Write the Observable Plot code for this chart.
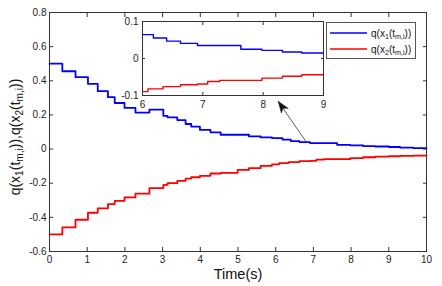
<!DOCTYPE html>
<html>
<head>
<meta charset="utf-8">
<script src="https://cdn.jsdelivr.net/npm/d3@7"></script>
<script src="https://cdn.jsdelivr.net/npm/@observablehq/plot@0.6"></script>
<style>
  html, body { margin: 0; padding: 0; background: white; }
  #wrap { position: relative; width: 442px; height: 286px; font-family: "Liberation Sans", Arial, sans-serif; color: #111; }
  #wrap svg { display: block; }
  .abs { position: absolute; }
  #legend { left: 326px; top: 22px; width: 88px; height: 35px; border: 1px solid #555; background: white; font-size: 10px; }
  .row { position: absolute; left: 3px; height: 14px; display: flex; align-items: center; white-space: nowrap; }
  .row svg { margin-right: 4px; }
  sub { font-size: 0.72em; vertical-align: -0.3em; line-height: 0; }
  #ylabel { left: 15px; top: 137px; transform: translate(-50%, -50%) rotate(-90deg); font-size: 14px; white-space: nowrap; }
  #xlabel { left: 238px; top: 274px; transform: translate(-50%, -50%); font-size: 14.5px; white-space: nowrap; }
</style>
</head>
<body>
<div id="wrap"></div>
<script>
// ---- data ----
const times = [0, 0.34, 0.69, 1.02, 1.28, 1.55, 1.73, 1.99, 2.28, 2.65, 3.02, 3.13, 3.39, 3.61, 3.76, 3.99, 4.27, 4.54, 4.99, 5.29, 5.6, 5.9, 6.09, 6.18, 6.34, 6.4, 6.63, 6.91, 7.08, 7.28, 7.63, 7.98, 8.32, 8.64, 9.0, 9.3, 9.65, 10];
const q1 = [0.5, 0.456, 0.421, 0.382, 0.339, 0.304, 0.27, 0.241, 0.214, 0.231, 0.194, 0.186, 0.17, 0.147, 0.131, 0.112, 0.098, 0.084, 0.084, 0.074, 0.068, 0.0645, 0.0645, 0.0556, 0.0556, 0.047, 0.041, 0.035, 0.035, 0.035, 0.025, 0.022, 0.0175, 0.015, 0.012, 0.009, 0.006, 0.006];
const q2 = [-0.5, -0.459, -0.414, -0.373, -0.347, -0.322, -0.304, -0.283, -0.261, -0.229, -0.21, -0.2, -0.186, -0.173, -0.165, -0.157, -0.143, -0.139, -0.122, -0.112, -0.098, -0.0896, -0.082, -0.082, -0.076, -0.076, -0.071, -0.069, -0.062, -0.059, -0.059, -0.053, -0.048, -0.044, -0.042, -0.04, -0.038, -0.038];
const xTicks = [0, 1, 2, 3, 4, 5, 6, 7, 8, 9, 10];
const yTicks = [-0.6, -0.4, -0.2, 0, 0.2, 0.4, 0.6, 0.8];
const insetXTicks = [6, 7, 8, 9];
const insetYTicks = [-0.1, 0, 0.1];
const arrowFrom = [6.8, 0.045];
const arrowTo = [6.07, 0.278];
const seriesNames = ["q1", "q2"];
const seriesColors = ["#0000ff", "#ff0000"];

const s1 = times.map((t, i) => ({t, v: q1[i]}));
const s2 = times.map((t, i) => ({t, v: q2[i]}));
const fmt = d => d === 0 ? "0" : String(d);
const axisColor = "#333";

const wrap = document.getElementById("wrap");

// filled, notched arrow head drawn pointing "up" from the anchor
const headShape = {
  draw(context, l) {
    context.moveTo(0, 0);
    context.lineTo(-4, l);
    context.lineTo(0, l - 3);
    context.lineTo(4, l);
    context.closePath();
  }
};

const main = Plot.plot({
  width: 442, height: 286,
  marginLeft: 49, marginRight: 16, marginTop: 12, marginBottom: 35,
  style: {fontFamily: "Liberation Sans, Arial, sans-serif", fontSize: "10px", color: "#222", background: "white"},
  x: {domain: [0, 10]},
  y: {domain: [-0.6, 0.8]},
  marks: [
    Plot.frame({stroke: axisColor}),
    Plot.axisX(xTicks, {anchor: "bottom", tickSize: -4, tickPadding: 8, tickFormat: fmt, label: null, stroke: axisColor}),
    Plot.axisX(xTicks, {anchor: "top", tickSize: -4, tickFormat: () => "", label: null, stroke: axisColor}),
    Plot.axisY(yTicks, {anchor: "left", tickSize: -4, tickPadding: 7, tickFormat: fmt, label: null, stroke: axisColor}),
    Plot.axisY(yTicks, {anchor: "right", tickSize: -4, tickFormat: () => "", label: null, stroke: axisColor}),
    Plot.line(s1, {x: "t", y: "v", curve: "step-after", stroke: seriesColors[0], strokeWidth: 1.8}),
    Plot.line(s2, {x: "t", y: "v", curve: "step-after", stroke: seriesColors[1], strokeWidth: 1.8}),
    Plot.arrow([{x1: arrowFrom[0], y1: arrowFrom[1], x2: arrowTo[0], y2: arrowTo[1]}], {x1: "x1", y1: "y1", x2: "x2", y2: "y2", stroke: "#333", strokeWidth: 0.8, headLength: 0}),
    Plot.vector([{x: arrowTo[0], y: arrowTo[1]}], {x: "x", y: "y", length: 11, rotate: -35, shape: headShape, anchor: "start", fill: "#111", stroke: "#111", strokeWidth: 0.5})
  ]
});
wrap.appendChild(main);

const inset = Plot.plot({
  width: 206, height: 99,
  marginLeft: 22, marginRight: 3, marginTop: 8, marginBottom: 17,
  style: {fontFamily: "Liberation Sans, Arial, sans-serif", fontSize: "10px", color: "#222", background: "transparent"},
  x: {domain: [6, 9]},
  y: {domain: [-0.1, 0.1]},
  marks: [
    Plot.frame({fill: "white", stroke: axisColor}),
    Plot.axisX(insetXTicks, {anchor: "bottom", tickSize: -3, tickPadding: 8, tickFormat: fmt, label: null, stroke: axisColor}),
    Plot.axisX(insetXTicks, {anchor: "top", tickSize: -3, tickFormat: () => "", label: null, stroke: axisColor}),
    Plot.axisY(insetYTicks, {anchor: "left", tickSize: -3, tickPadding: 7, tickFormat: fmt, label: null, stroke: axisColor}),
    Plot.axisY(insetYTicks, {anchor: "right", tickSize: -3, tickFormat: () => "", label: null, stroke: axisColor}),
    Plot.line(s1, {x: "t", y: "v", curve: "step-after", stroke: seriesColors[0], strokeWidth: 1.4, clip: true}),
    Plot.line(s2, {x: "t", y: "v", curve: "step-after", stroke: seriesColors[1], strokeWidth: 1.4, clip: true})
  ]
});
inset.classList.add("abs");
inset.style.left = "120px";
inset.style.top = "13px";
wrap.appendChild(inset);

// legend
const legend = document.createElement("div");
legend.id = "legend";
legend.className = "abs";
const labels = [
  'q(x<sub>1</sub>(t<sub>m,i</sub>))',
  'q(x<sub>2</sub>(t<sub>m,i</sub>))'
];
seriesNames.forEach((n, i) => {
  const row = document.createElement("div");
  row.className = "row";
  row.style.top = (i === 0 ? 3 : 19) + "px";
  row.innerHTML = `<svg width="37" height="4"><line x1="0" x2="37" y1="2" y2="2" stroke="${seriesColors[i]}" stroke-width="1.5"/></svg><span>${labels[i]}</span>`;
  legend.appendChild(row);
});
wrap.appendChild(legend);

const yl = document.createElement("div");
yl.id = "ylabel"; yl.className = "abs";
yl.innerHTML = 'q(x<sub>1</sub>(t<sub>m,i</sub>)),q(x<sub>2</sub>(t<sub>m,i</sub>))';
wrap.appendChild(yl);

const xl = document.createElement("div");
xl.id = "xlabel"; xl.className = "abs";
xl.textContent = "Time(s)";
wrap.appendChild(xl);
</script>
</body>
</html>
